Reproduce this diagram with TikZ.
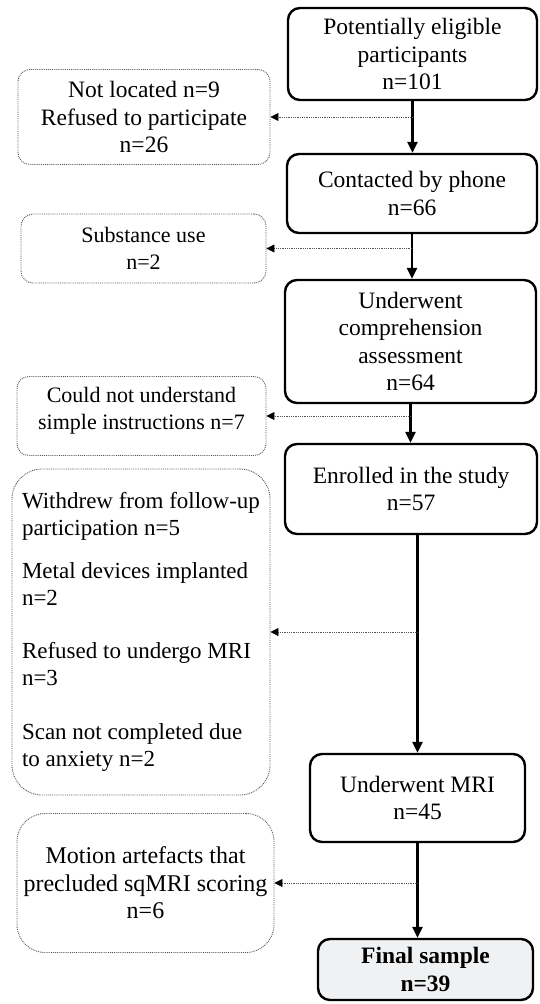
\documentclass[tikz,border=0pt]{standalone}
\usepackage{fontspec}
\setmainfont{Liberation Serif}
\usepackage{xcolor}
\usetikzlibrary{arrows.meta}
\definecolor{finalgray}{RGB}{240, 241, 243}
\definecolor{dotgray}{RGB}{85, 85, 85}

\tikzset{
  mainbox/.style={draw=black, line width=2.4pt, rounded corners=12pt, fill=white, align=center, inner sep=0pt, font=\fontsize{23.5}{27.5}\selectfont},
  sidebox/.style={draw=dotgray, densely dotted, line width=0.9pt, rounded corners=12pt, align=center, inner sep=0pt, font=\fontsize{22}{27}\selectfont},
  mainarrow/.style={line width=2.6pt, -{Triangle[width=10pt, length=11pt]}},
  sidearrow/.style={draw=dotgray, densely dotted, line width=0.8pt, -{Triangle[width=8pt, length=8pt, color=black]}}
}

\begin{document}
\begin{tikzpicture}[x=1pt, y=-1pt]
\useasboundingbox (0,0) rectangle (540,1004);

% main column
\node[mainbox, minimum width=249pt, minimum height=92pt] (eligible) at (412.5,54) {Potentially eligible\\participants\\n=101};
\node[mainbox, minimum width=250pt, minimum height=79pt] (phone) at (412,193.5) {Contacted by phone\\n=66};
\node[mainbox, minimum width=251pt, minimum height=123pt] (assess) at (410.5,341.5) {Underwent\\comprehension\\assessment\\n=64};
\node[mainbox, minimum width=252pt, minimum height=90pt] (enrolled) at (411,489) {Enrolled in the study\\n=57};
\node[mainbox, minimum width=215pt, minimum height=88pt] (mri) at (417.5,798) {Underwent MRI\\n=45};
\node[mainbox, fill=finalgray, minimum width=215pt, minimum height=61pt, font=\fontsize{23.5}{27.5}\selectfont\bfseries] (final) at (425.5,969.5) {Final sample\\n=39};

% exclusions
\node[sidebox, minimum width=252pt, minimum height=95pt, font=\fontsize{23.5}{27.5}\selectfont] (notlocated) at (144,117) {Not located n=9\\Refused to participate\\n=26};
\node[sidebox, minimum width=245pt, minimum height=69pt] (substance) at (143.5,248.5) {Substance use\\n=2};
\node[sidebox, minimum width=249pt, minimum height=79pt] (understand) at (141.5,416) {Could not understand\\simple instructions n=7\\[-12pt]\mbox{}};
\node[sidebox, rounded corners=30pt, align=left, minimum width=258pt, minimum height=326pt, font=\fontsize{23}{27}\selectfont] (withdrew) at (141,632) {Withdrew from follow-up\\participation n=5\\[16pt]Metal devices implanted\\n=2\\[26pt]Refused to undergo MRI\\n=3\\[27pt]Scan not completed due\\to anxiety n=2};
\node[sidebox, rounded corners=28pt, minimum width=257pt, minimum height=139pt, font=\fontsize{24}{27.5}\selectfont] (motion) at (145.5,883) {Motion artefacts that\\precluded sqMRI scoring\\n=6};

% flow
\draw[mainarrow] (eligible.south) -- (eligible.south |- phone.north);
\draw[mainarrow] (phone.south) -- (phone.south |- assess.north);
\draw[mainarrow] (assess.south) -- (assess.south |- enrolled.north);
\draw[mainarrow] (enrolled.south -| mri.north) -- (mri.north);
\draw[mainarrow] (mri.south) -- (mri.south |- final.north);

\draw[sidearrow] (notlocated.east -| eligible.south) -- (notlocated.east);
\draw[sidearrow] (substance.east -| phone.south) -- (substance.east);
\draw[sidearrow] (understand.east -| assess.south) -- (understand.east);
\draw[sidearrow] (withdrew.east -| mri.north) -- (withdrew.east);
\draw[sidearrow] (motion.east -| mri.south) -- (motion.east);
\end{tikzpicture}
\end{document}
